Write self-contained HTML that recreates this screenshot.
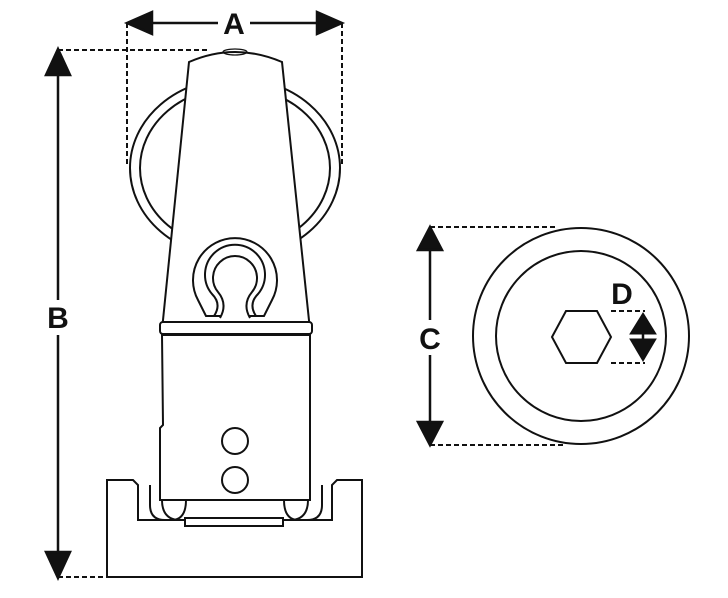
<!DOCTYPE html>
<html><head><style>html,body{margin:0;padding:0;background:#fff}svg{display:block}</style></head><body>
<svg width="728" height="598" viewBox="0 0 728 598" xmlns="http://www.w3.org/2000/svg">
<g fill="#fff" stroke="#111" stroke-width="2">
<ellipse cx="235" cy="168" rx="105" ry="90"/><ellipse cx="235" cy="168" rx="95" ry="81"/>
<path d="M189,62 Q235,42 282,62 L310,330 L162,330 Z"/>
<path d="M206,316 L198,300 A42,42 0 1 1 272,300 L264,316 Z"/>
<path d="M214,316 Q222,304 212,294 A30,30 0 1 1 258,294 Q248,304 256,316" fill="none"/>
<path d="M220,318 Q228,304 218,292 A22,22 0 1 1 252,292 Q242,304 250,318" fill="#fff"/>
<rect x="160" y="322" width="152" height="12" rx="3"/>
<path d="M107,480 L133,480 L138,485 L138,520 L332,520 L332,485 L337,480 L362,480 L362,577 L107,577 Z"/>
<rect x="185" y="518" width="98" height="8"/>
<path d="M150,485 L150,505 Q150,520 165,520 M322,485 L322,505 Q322,520 307,520" fill="none"/>
<path d="M162,335 L310,335 L310,500 L160,500 L160,428 L163,425 Z"/>
<path d="M162,500 q0,18 15,20 M186,500 q0,18 -12,20 M308,500 q0,18 -15,20 M284,500 q0,18 12,20" fill="none"/>
<circle cx="235" cy="441" r="13"/><circle cx="235" cy="480" r="13"/>
<circle cx="581" cy="336" r="108"/><circle cx="581" cy="336" r="85"/>
<polygon points="552,337 566,311 597,311 611,337 597,363 566,363"/>
</g>
<ellipse cx="235" cy="52" rx="12" ry="3" fill="none" stroke="#111" stroke-width="1.2"/>
<g fill="none" stroke="#111" stroke-width="2" stroke-dasharray="5,3">
<line x1="127" y1="23" x2="127" y2="165"/><line x1="342" y1="23" x2="342" y2="165"/>
<line x1="58" y1="50" x2="210" y2="50"/><line x1="58" y1="577" x2="107" y2="577"/>
<line x1="430" y1="227" x2="555" y2="227"/><line x1="430" y1="445" x2="565" y2="445"/>
<line x1="611" y1="311" x2="645" y2="311"/><line x1="611" y1="363" x2="645" y2="363"/>
</g>
<g stroke="#111" stroke-width="2.5" fill="#111">
<line x1="218" y1="23" x2="128" y2="23"/><polygon points="127,23 152,12 152,34"/>
<line x1="250" y1="23" x2="340" y2="23"/><polygon points="342,23 317,12 317,34"/>
<line x1="58" y1="300" x2="58" y2="75"/><polygon points="58,49 46,75 70,75"/>
<line x1="58" y1="335" x2="58" y2="555"/><polygon points="58,578 46,552 70,552"/>
<line x1="430" y1="320" x2="430" y2="250"/><polygon points="430,227 418,250 442,250"/>
<line x1="430" y1="355" x2="430" y2="425"/><polygon points="430,445 418,422 442,422"/>
<polygon points="643,313 630,334 656,334" stroke-width="1"/><polygon points="643,361 630,339 656,339" stroke-width="1"/>
<line x1="643" y1="334" x2="643" y2="339"/>
</g>
<g font-family="Liberation Sans, sans-serif" font-weight="bold" font-size="30" text-anchor="middle" fill="#111">
<text x="234" y="34">A</text><text x="58" y="328">B</text><text x="430" y="349">C</text><text x="622" y="304">D</text>
</g>
</svg>
</body></html>
